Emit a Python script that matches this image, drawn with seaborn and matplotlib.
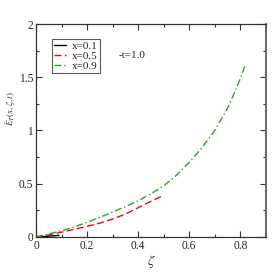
import matplotlib
matplotlib.use("Agg")
import matplotlib.pyplot as plt
import matplotlib.ticker as mtick
import numpy as np
import pandas as pd
import seaborn as sns

# values
zeta_01 = [0.0, 0.03, 0.06, 0.09]
e_01 = [0.0, 0.004, 0.009, 0.015]

zeta_05 = [0.0, 0.05, 0.1, 0.15, 0.2, 0.25, 0.3, 0.35, 0.4, 0.45, 0.49]
e_05 = [0.0, 0.02, 0.045, 0.072, 0.100, 0.130, 0.168, 0.215, 0.275, 0.335, 0.38]

zeta_09 = [0.0, 0.05, 0.1, 0.15, 0.2, 0.25, 0.3, 0.35, 0.4, 0.45, 0.5, 0.55,
           0.6, 0.65, 0.7, 0.75, 0.78, 0.8, 0.82]
e_09 = [0.0, 0.028, 0.058, 0.095, 0.138, 0.185, 0.235, 0.285, 0.34, 0.405, 0.48, 0.58,
        0.70, 0.84, 1.0, 1.21, 1.37, 1.49, 1.62]

labels = ["x=0.1", "x=0.5", "x=0.9"]
colors = ["black", "red", "#22aa22"]
dashes = [None, (5, 2.5), (5, 2, 1, 2)]

frames = []
for lab, zz, ee in zip(labels, [zeta_01, zeta_05, zeta_09], [e_01, e_05, e_09]):
    frames.append(pd.DataFrame({"zeta": zz, "E": ee, "series": lab}))
df = pd.concat(frames, ignore_index=True)

sns.set_style("ticks")
plt.rcParams["font.family"] = ["Liberation Serif", "DejaVu Serif"]
plt.rcParams["mathtext.fontset"] = "stix"

fig = plt.figure(figsize=(2.73, 2.73), dpi=100)
ax = fig.add_axes([0.132, 0.132, 0.842, 0.78])

for lab, col, ds in zip(labels, colors, dashes):
    sub = df[df["series"] == lab]
    sns.lineplot(data=sub, x="zeta", y="E", ax=ax, color=col, lw=1.0,
                 label=lab, sort=False, estimator=None)
    if ds is not None:
        ax.lines[-1].set_dashes(ds)

ax.set_xlim(0, 0.9)
ax.set_ylim(0, 2)
ax.xaxis.set_major_locator(mtick.MultipleLocator(0.2))
ax.xaxis.set_minor_locator(mtick.MultipleLocator(0.1))
ax.yaxis.set_major_locator(mtick.MultipleLocator(0.5))
ax.yaxis.set_minor_locator(mtick.MultipleLocator(0.25))
ax.xaxis.set_major_formatter(mtick.FuncFormatter(lambda v, p: f"{v:g}"))
ax.yaxis.set_major_formatter(mtick.FuncFormatter(lambda v, p: f"{v:g}"))
ax.tick_params(which="both", direction="in", top=True, right=True,
               labelsize=8.3, pad=2, color="#333333")
ax.tick_params(which="major", length=4, width=0.8)
ax.tick_params(which="minor", length=2.5, width=0.8)
for side in ["left", "bottom", "top"]:
    ax.spines[side].set_linewidth(0.9)
    ax.spines[side].set_color("#333333")
ax.spines["right"].set_linewidth(1.4)
ax.spines["right"].set_color("#666666")

ax.set_xlabel(r"$\zeta$", fontsize=10, labelpad=1)
ax.set_ylabel("")
ax.text(-0.078, 0.605, r"$\tilde{E}_T(x,\zeta,t)$", transform=ax.transAxes,
        fontsize=6.5, rotation=90, ha="right", va="center")

ax.text(0.325, 1.70, "-t=1.0", fontsize=8, va="center", ha="left")

leg = ax.legend(loc="upper left", bbox_to_anchor=(0.068, 0.928), fontsize=8,
                frameon=True, fancybox=False, borderaxespad=0, handlelength=1.1,
                handletextpad=0.5, labelspacing=0.0, borderpad=0.2)
leg.get_frame().set_edgecolor("#333333")
leg.get_frame().set_linewidth(0.8)

fig.savefig("out.png", dpi=100)
